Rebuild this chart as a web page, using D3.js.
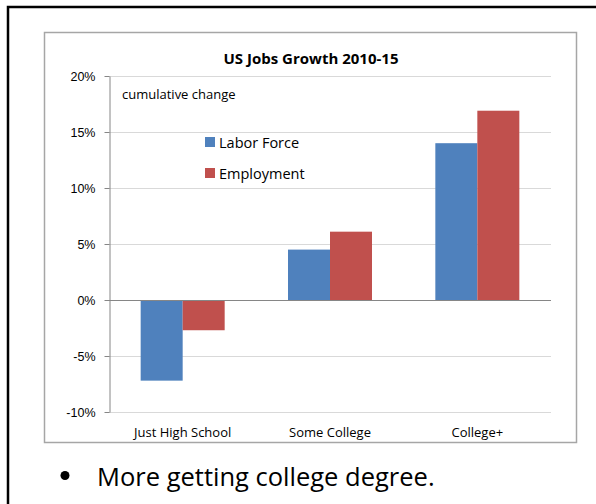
<!DOCTYPE html>
<html>
<head>
<meta charset="utf-8">
<script src="https://cdn.jsdelivr.net/npm/d3@7"></script>
<style>
  body { margin: 0; background: #fff; overflow: hidden; }
  svg { display: block; font-family: "Open Sans", sans-serif; }
</style>
</head>
<body>
<svg id="chart"></svg>
<script>
const categories = ["Just High School", "Some College", "College+"];
const seriesNames = ["Labor Force", "Employment"];
const laborForce = [-7.2, 4.5, 14.0];
const employment = [-2.7, 6.1, 16.9];
const yTicks = [-10, -5, 0, 5, 10, 15, 20];

const colors = ["#4f81bd", "#c0504d"];
const width = 596;
const height = 504;

const svg = d3.select("#chart")
    .attr("width", width)
    .attr("height", height);

// outer slide frame (right and bottom edges fall off the page)
svg.append("rect")
    .attr("x", 8).attr("y", 7)
    .attr("width", 700).attr("height", 600)
    .attr("fill", "none")
    .attr("stroke", "#000")
    .attr("stroke-width", 2.5);

// chart box
svg.append("rect")
    .attr("x", 44.5).attr("y", 32.5)
    .attr("width", 532).attr("height", 410)
    .attr("fill", "#fff")
    .attr("stroke", "#a6a6a6")
    .attr("stroke-width", 1.5);

const x0 = d3.scaleBand()
    .domain(categories)
    .range([109, 551]);

const x1 = d3.scaleBand()
    .domain(seriesNames)
    .range([0, 84]);

const y = d3.scaleLinear()
    .domain([-10, 20])
    .range([412, 76]);

// gridlines
svg.append("g")
    .selectAll("line")
    .data(yTicks)
    .join("line")
    .attr("x1", 109).attr("x2", 551)
    .attr("y1", d => y(d) + 0.5).attr("y2", d => y(d) + 0.5)
    .attr("stroke", d => d === 0 ? "none" : "#d9d9d9");

// y axis
const yAxis = svg.append("g")
    .attr("transform", "translate(109.5,0)")
    .call(d3.axisLeft(y).tickValues(yTicks).tickFormat(d => d + "%").tickSize(5).tickSizeOuter(0));
yAxis.select(".domain").attr("stroke", "#868686");
yAxis.selectAll(".tick line").attr("stroke", "#868686");
yAxis.selectAll(".tick text")
    .attr("x", -14)
    .attr("font-size", 12.5)
    .attr("font-family", null)
    .attr("fill", "#000");

// bars
const rows = categories.map((c, i) => ({ cat: c, vals: [laborForce[i], employment[i]] }));
const groups = svg.append("g")
    .selectAll("g")
    .data(rows)
    .join("g")
    .attr("transform", d => `translate(${x0(d.cat) + (x0.bandwidth() - 84) / 2},0)`);

groups.selectAll("rect")
    .data(d => d.vals.map((v, j) => ({ name: seriesNames[j], v, j })))
    .join("rect")
    .attr("x", d => x1(d.name))
    .attr("width", x1.bandwidth())
    .attr("y", d => y(Math.max(0, d.v)))
    .attr("height", d => Math.abs(y(d.v) - y(0)))
    .attr("fill", d => colors[d.j]);

// zero line
svg.append("line")
    .attr("x1", 109).attr("x2", 551)
    .attr("y1", y(0) + 0.5).attr("y2", y(0) + 0.5)
    .attr("stroke", "#868686");

// x axis labels
svg.append("g")
    .selectAll("text")
    .data(categories)
    .join("text")
    .attr("x", d => x0(d) + x0.bandwidth() / 2)
    .attr("y", 437)
    .attr("text-anchor", "middle")
    .attr("font-size", 13)
    .text(d => d);

// title
svg.append("text")
    .attr("x", 311).attr("y", 64)
    .attr("text-anchor", "middle")
    .attr("font-size", 15)
    .attr("font-weight", "bold")
    .text("US Jobs Growth 2010-15");

svg.append("text")
    .attr("x", 122).attr("y", 99)
    .attr("font-size", 13)
    .text("cumulative change");

// legend
const legend = svg.append("g")
    .selectAll("g")
    .data(seriesNames)
    .join("g")
    .attr("transform", (d, i) => `translate(205,${137 + i * 31})`);
legend.append("rect")
    .attr("width", 10).attr("height", 10)
    .attr("fill", (d, i) => colors[i]);
legend.append("text")
    .attr("x", 14).attr("y", 10.5)
    .attr("font-size", 14.5)
    .text(d => d);

// bullet point
svg.append("circle")
    .attr("cx", 65).attr("cy", 475.5)
    .attr("r", 4.5)
    .attr("fill", "#000");
svg.append("text")
    .attr("x", 97).attr("y", 486)
    .attr("font-size", 25.5)
    .text("More getting college degree.");
</script>
</body>
</html>
